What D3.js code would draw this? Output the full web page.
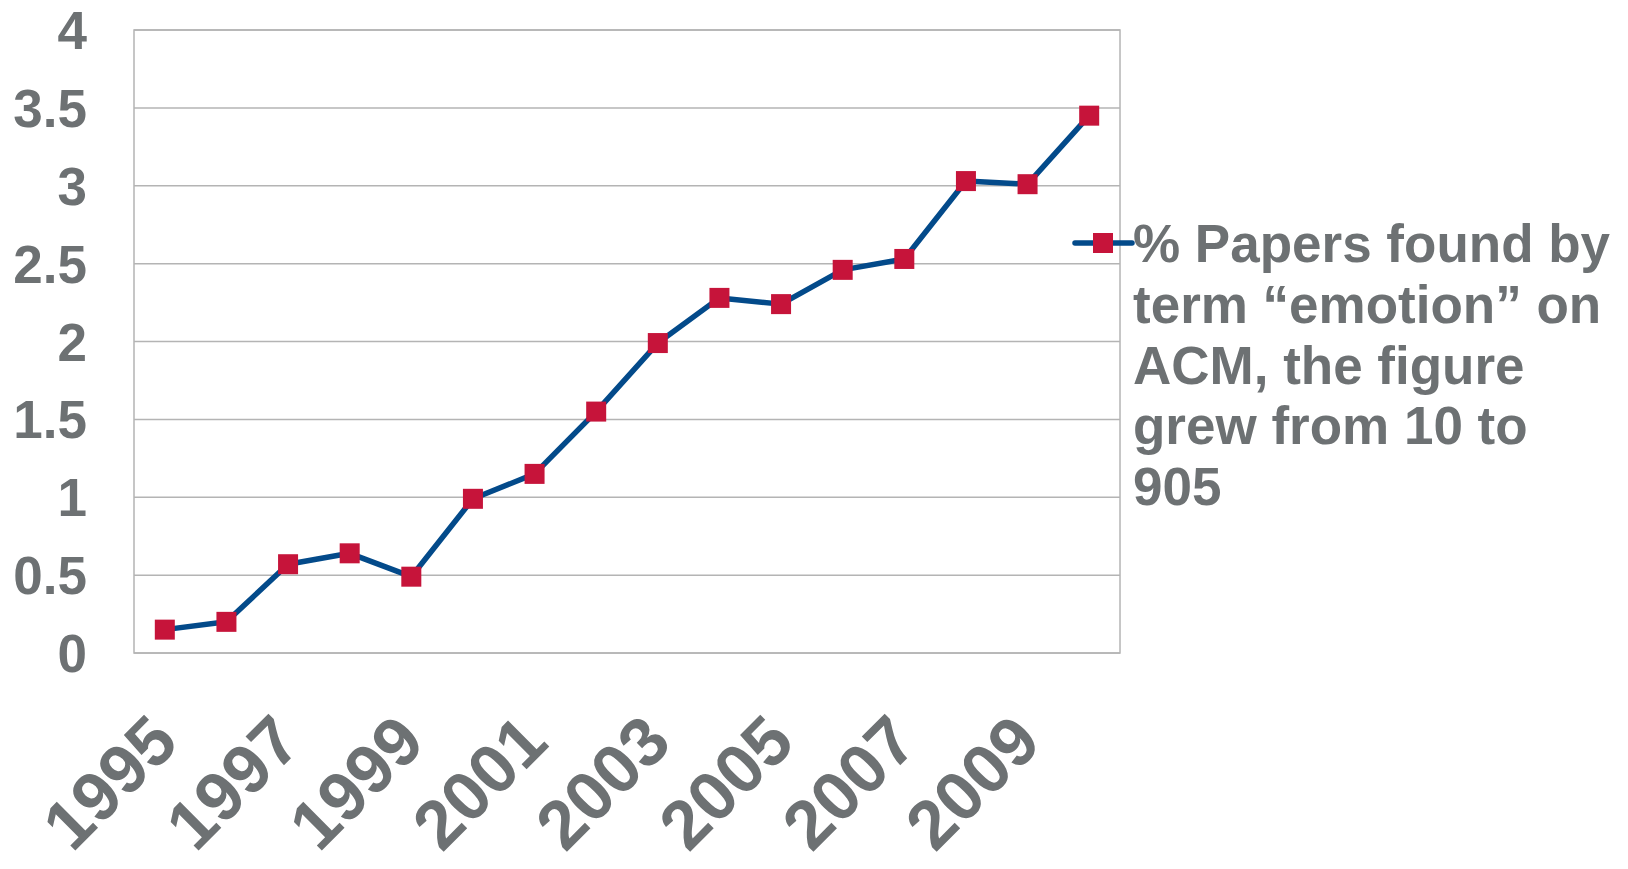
<!DOCTYPE html>
<html>
<head>
<meta charset="utf-8">
<script src="https://cdn.jsdelivr.net/npm/d3@7"></script>
<style>
  body { margin: 0; background: #fff; }
  svg text { font-family: "Liberation Sans", Arial, sans-serif; font-weight: bold; fill: #6d7173; }
</style>
</head>
<body>
<svg id="chart"></svg>
<script>
const years = ['1995','1996','1997','1998','1999','2000','2001','2002','2003','2004','2005','2006','2007','2008','2009','2010'],
values = [0.15, 0.2, 0.57, 0.64, 0.49, 0.99, 1.15, 1.55, 1.99, 2.28, 2.24, 2.46, 2.53, 3.03, 3.01, 3.45],
yTicks = [0, 0.5, 1, 1.5, 2, 2.5, 3, 3.5, 4],
xLabels = ['1995','1997','1999','2001','2003','2005','2007','2009'],
legendLines = ['% Papers found by', 'term \u201cemotion\u201d on', 'ACM, the figure', 'grew from 10 to', '905'],
margin = {top: 30, left: 134},
width = 986,
height = 623,
lineColor = '#034a8a',
markerColor = '#c6143a',
gridColor = '#b4b4b4';

const svg = d3.select('#chart')
.attr('width', 1628)
.attr('height', 869);

const chart = svg.append('g')
.attr('transform', `translate(${margin.left}, ${margin.top})`);

const x = d3.scaleBand()
.domain(years)
.range([0, width]);

const y = d3.scaleLinear()
.domain([0, 4])
.range([height, 0]);

const cx = (d) => x(d) + x.bandwidth() / 2;

// grid + frame
chart.append('g')
.selectAll('line')
.data(yTicks)
.enter().append('line')
.attr('x1', 0)
.attr('x2', width)
.attr('y1', (d) => y(d))
.attr('y2', (d) => y(d))
.attr('stroke', gridColor)
.attr('stroke-width', 1.5);

chart.append('rect')
.attr('width', width)
.attr('height', height)
.attr('fill', 'none')
.attr('stroke', gridColor)
.attr('stroke-width', 1.5);

// y axis
const yAxis = chart.append('g')
.call(d3.axisLeft(y).tickValues(yTicks).tickSize(0).tickPadding(47).tickFormat((d) => `${d}`));
yAxis.select('.domain').remove();
yAxis.selectAll('text')
.attr('dy', '0.35em')
.style('font-size', '53px')
.style('font-family', '"Liberation Sans", Arial, sans-serif')
.attr('fill', '#6d7173');

// x axis, every other year
const xAxis = chart.append('g')
.attr('transform', `translate(0,${height})`)
.call(d3.axisBottom(x).tickValues(xLabels).tickSize(0));
xAxis.select('.domain').remove();
xAxis.selectAll('text')
.attr('x', 0)
.attr('y', 0)
.attr('dy', 0)
.attr('text-anchor', 'end')
.attr('transform', 'translate(16,92) rotate(-45)')
.style('font-size', '69px')
.style('font-family', '"Liberation Sans", Arial, sans-serif')
.attr('fill', '#6d7173');

// series
const line = d3.line()
.x((d, i) => cx(years[i]))
.y((d) => y(d));

chart.append('path')
.datum(values)
.attr('d', line)
.attr('fill', 'none')
.attr('stroke', lineColor)
.attr('stroke-width', 5.5)
.attr('stroke-linejoin', 'round');

chart.selectAll('.marker')
.data(values)
.enter().append('rect')
.attr('class', 'marker')
.attr('x', (d, i) => cx(years[i]) - 10)
.attr('y', (d) => y(d) - 10)
.attr('width', 20)
.attr('height', 20)
.attr('fill', markerColor);

// legend
const legend = svg.append('g')
.attr('transform', 'translate(1075,243)');

legend.append('line')
.attr('x1', 0)
.attr('x2', 57)
.attr('stroke', lineColor)
.attr('stroke-width', 5.5)
.attr('stroke-linecap', 'round');

legend.append('rect')
.attr('x', 18)
.attr('y', -10)
.attr('width', 20)
.attr('height', 20)
.attr('fill', markerColor);

legend.append('g')
.selectAll('text')
.data(legendLines)
.enter().append('text')
.attr('x', 58)
.attr('y', (d, i) => 19 + i * 60.75)
.style('font-size', '53px')
.text((d) => d);
</script>
</body>
</html>
